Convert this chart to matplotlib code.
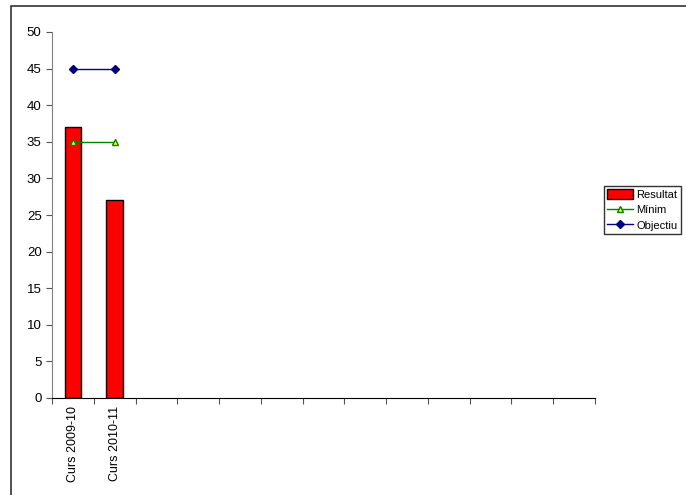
import numpy as np
import matplotlib.pyplot as plt
from matplotlib.patches import Rectangle

plt.rcParams['font.family'] = ['Liberation Sans', 'DejaVu Sans']

categories = ['Curs 2009-10', 'Curs 2010-11'] + [''] * 11
resultat = [37, 27]
minim = [35, 35]
objectiu = [45, 45]

W, H = 686, 495
fig = plt.figure(figsize=(W / 100, H / 100), dpi=100)

# outer chart frame (Excel style, cut at right/bottom)
fig.patches.append(Rectangle((11 / W, -0.1), 1.2, 1 - 6 / H + 0.1,
                             transform=fig.transFigure, fill=False,
                             edgecolor='#333333', lw=1.2))

ax = fig.add_axes([52 / W, (H - 398) / H, 543 / W, 366 / H])
n = len(categories)
x = np.arange(n)
b = ax.bar(x[:len(resultat)], resultat, width=0.4, color='red', edgecolor='black',
           lw=1, label='Resultat', zorder=2)
l1, = ax.plot(x[:len(minim)], minim, color='#008000', marker='^', ms=5,
              mfc='yellow', mec='#008000', lw=1, label='Mínim', zorder=3)
l2, = ax.plot(x[:len(objectiu)], objectiu, color='#000080', marker='D', ms=4,
              mfc='#000080', mec='#000080', lw=1, label='Objectiu', zorder=3)

ax.set_xlim(-0.5, n - 0.5)
ax.set_ylim(0, 50)
ax.set_yticks(range(0, 51, 5))
ax.set_xticks(np.arange(-0.5, n, 1))
ax.set_xticklabels([])
ax.set_xticks(x, minor=True)
ax.set_xticklabels(categories, minor=True, rotation=90, fontsize=9)
ax.tick_params(axis='x', which='minor', length=0, pad=6)
ax.tick_params(axis='x', which='major', length=4, direction='out', color='#555555')
ax.tick_params(axis='y', length=4, direction='out', labelsize=9.5, color='#555555')

for s in ['top', 'right']:
    ax.spines[s].set_visible(False)
ax.spines['left'].set_color('#808080')
ax.spines['bottom'].set_color('black')

leg = fig.legend([b, l1, l2], ['Resultat', 'Mínim', 'Objectiu'],
                 loc='upper left', bbox_to_anchor=(604 / W, 1 - 186 / H),
                 frameon=True, fancybox=False, fontsize=8, handlelength=2.3,
                 handleheight=0.9, borderpad=0.3, labelspacing=0.45,
                 handletextpad=0.3, borderaxespad=0)
leg.get_frame().set_edgecolor('black')
leg.get_frame().set_linewidth(1)

fig.savefig('out.png', dpi=100)
